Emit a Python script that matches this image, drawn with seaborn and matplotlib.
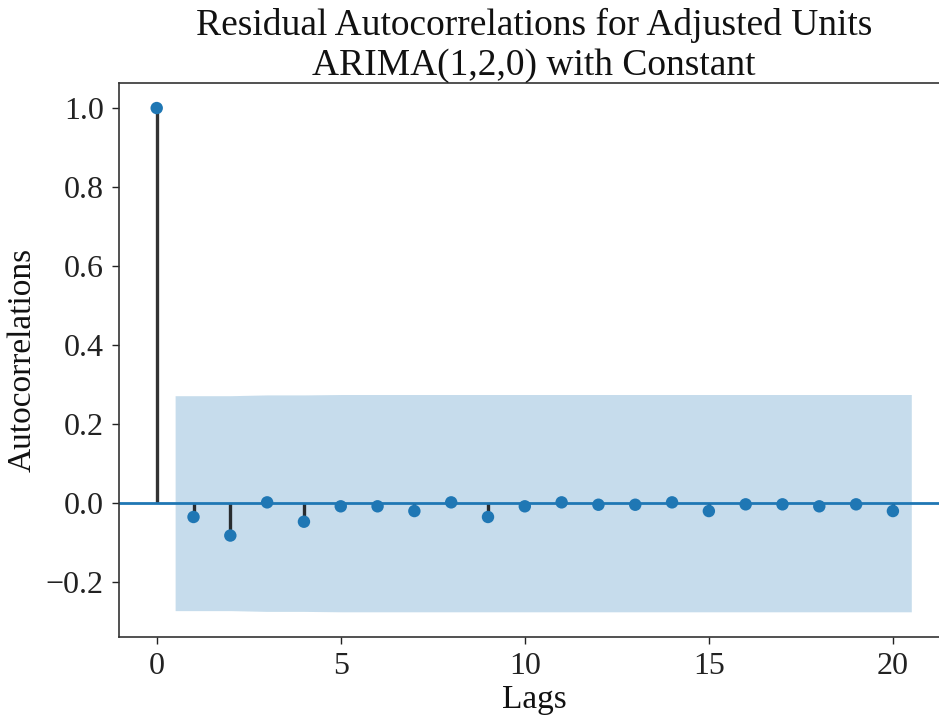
import numpy as np
import pandas as pd
import matplotlib
matplotlib.use("Agg")
import matplotlib.pyplot as plt
import seaborn as sns

# ACF of residuals
lags = list(range(0, 21))
acf_vals = [1.0, -0.035, -0.082, 0.002, -0.047, -0.008, -0.008, -0.020, 0.002, -0.035,
            -0.008, 0.002, -0.004, -0.004, 0.002, -0.020, -0.003, -0.003, -0.008, -0.003,
            -0.020]
# half width of the 95% band (Bartlett) for lags 1..20
band_half = [0.272, 0.272, 0.274, 0.274, 0.275, 0.275, 0.275, 0.275, 0.275, 0.275,
             0.275, 0.275, 0.275, 0.275, 0.275, 0.275, 0.275, 0.275, 0.275, 0.275]

title = "Residual Autocorrelations for Adjusted Units\nARIMA(1,2,0) with Constant"

sns.set_style("ticks")
plt.rcParams['font.family'] = ['Liberation Serif', 'DejaVu Serif']
plt.rcParams['axes.unicode_minus'] = True
plt.rcParams['text.color'] = '#111111'
plt.rcParams['axes.labelcolor'] = '#111111'
plt.rcParams['xtick.color'] = '#222222'
plt.rcParams['ytick.color'] = '#222222'

df = pd.DataFrame({'lag': lags, 'acf': acf_vals})

fig = plt.figure(figsize=(9.39, 7.15), dpi=100)
ax = fig.add_axes([0.1267, 0.1091, 0.884, 0.775])

# stems
ax.vlines(df['lag'], 0, df['acf'], colors='k', linewidth=2.4, alpha=0.8)
# zero line
ax.axhline(0, color='C0', linewidth=2)

# points
sns.scatterplot(data=df, x='lag', y='acf', ax=ax, color='C0', s=80,
                edgecolor='none', zorder=3, legend=False)

# confidence band
band_x = np.array(lags[1:], dtype=float)
band_x[0] -= 0.5
band_x[-1] += 0.5
half = np.array(band_half)
ax.fill_between(band_x, -half, half, color='C0', alpha=0.25, linewidth=0)

ax.margins(x=0.05, y=0.05)
ax.set_xticks([0, 5, 10, 15, 20])
ax.set_yticks([-0.2, 0.0, 0.2, 0.4, 0.6, 0.8, 1.0])
ax.tick_params(labelsize=23, length=5, width=1, pad=6)
ax.set_title(title, fontsize=27, pad=4, linespacing=1.2)
ax.set_xlabel("Lags", fontsize=24, labelpad=2)
ax.set_ylabel("Autocorrelations", fontsize=24, labelpad=6)
for s in ax.spines.values():
    s.set_linewidth(1.2)
    s.set_color('#333333')

fig.savefig("out.png", dpi=100)
